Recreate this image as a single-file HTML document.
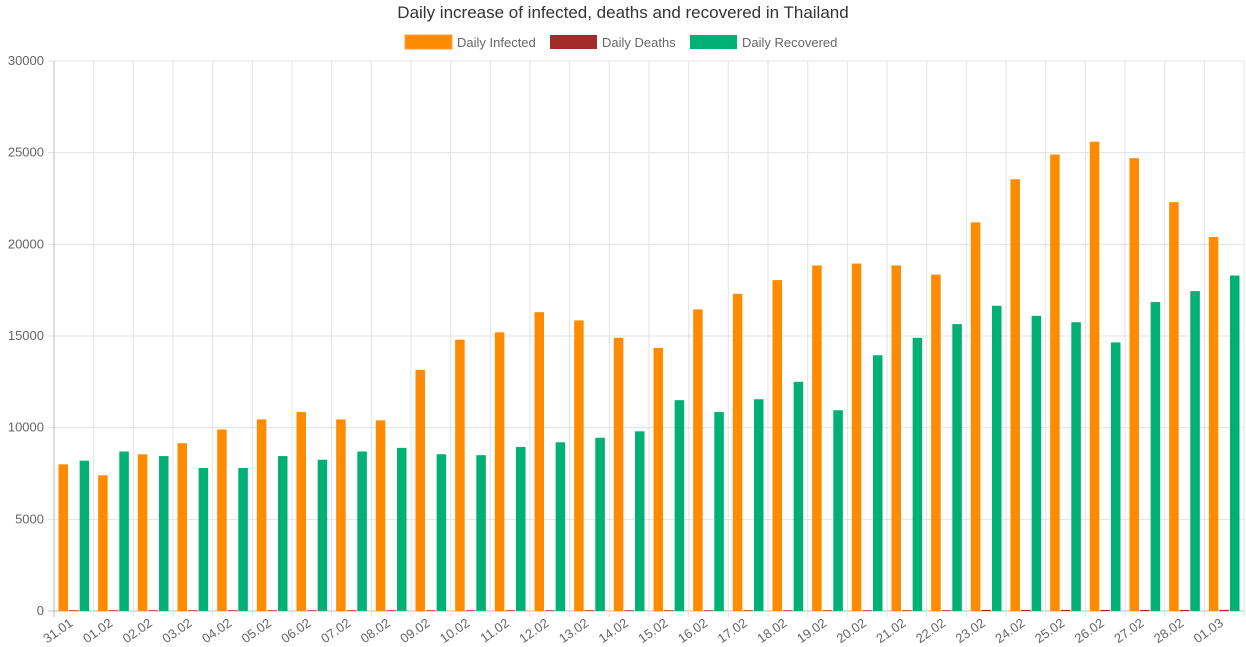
<!DOCTYPE html>
<html><head><meta charset="utf-8"><style>
body{margin:0;background:#fff;font-family:"Liberation Sans",sans-serif;}
svg{display:block}
</style></head><body>
<svg id="chart" width="1246" height="647">
<text x="623" y="18" text-anchor="middle" font-size="17" fill="#333">Daily increase of infected, deaths and recovered in Thailand</text>
<g>
<g><rect x="405" y="35" width="47" height="14" fill="#ff8c00" stroke="#ffa040"/><text x="457" y="47" font-size="13" fill="#666">Daily Infected</text></g>
<g><rect x="550" y="35" width="47" height="14" fill="#a52a2a"/><text x="602" y="47" font-size="13" fill="#666">Daily Deaths</text></g>
<g><rect x="690" y="35" width="47" height="14" fill="#00b074"/><text x="742" y="47" font-size="13" fill="#666">Daily Recovered</text></g>
</g>
<g id="grid"></g><g id="bars"></g><g id="axes"></g>
</svg>
<script>
const categories=["31.01","01.02","02.02","03.02","04.02","05.02","06.02","07.02","08.02","09.02","10.02","11.02","12.02","13.02","14.02","15.02","16.02","17.02","18.02","19.02","20.02","21.02","22.02","23.02","24.02","25.02","26.02","27.02","28.02","01.03"];
const infected=[8000,7400,8550,9150,9900,10450,10850,10450,10400,13150,14800,15200,16300,15850,14900,14350,16450,17300,18050,18850,18950,18850,18350,21200,23550,24900,25600,24700,22300,20400];
const deaths=[40,40,40,40,40,40,40,40,40,40,40,40,40,40,40,40,40,40,40,40,40,40,40,60,60,60,60,60,60,60];
const recovered=[8200,8700,8450,7800,7800,8450,8250,8700,8900,8550,8500,8950,9200,9450,9800,11500,10850,11550,12500,10950,13950,14900,15650,16650,16100,15750,14650,16850,17450,18300];
const yTicks=[0,5000,10000,15000,20000,25000,30000];
const NS="http://www.w3.org/2000/svg";
const L=54,R=1244,T=61,B=611,yMax=30000;
const cw=(R-L)/categories.length;
const y=v=>B-(v/yMax)*(B-T);
const x=i=>L+i*cw;
function mk(tag,attrs,parent){const e=document.createElementNS(NS,tag);for(const k in attrs)e.setAttribute(k,attrs[k]);parent.appendChild(e);return e;}
const grid=document.getElementById('grid'),bars=document.getElementById('bars'),axes=document.getElementById('axes');
yTicks.forEach(t=>{
  const ln=mk('line',{x1:L-6,x2:R,y1:y(t),y2:y(t),stroke:t===0?'#bbb':'#e3e3e3'},grid);
  
  
  const tx=mk('text',{x:L-10,y:y(t)+4,'text-anchor':'end','font-size':13,fill:'#666'},axes);
  tx.textContent=t;
  
  
});
for(let i=0;i<=categories.length;i++){
  const ln=mk('line',{x1:x(i),x2:x(i),y1:T,y2:B+6,stroke:i===0?'#bbb':'#e3e3e3'},grid);
  
  
}
const series=[[infected,'#ff8c00','bar-infected'],[deaths,'#a52a2a','bar-deaths'],[recovered,'#00b074','bar-recovered']];
const inner=cw*0.8,slot=inner/3,bw=slot*0.9;
categories.forEach((c,i)=>{
  series.forEach(([arr,col,nm],s)=>{
    const bx=x(i)+cw*0.1+s*slot+(slot-bw)/2;
    const r=mk('rect',{x:bx,y:y(arr[i]),width:bw,height:B-y(arr[i]),fill:col},bars);
    
    
  });
  const cx=x(i)+cw/2;
  const tx=mk('text',{x:cx,y:B+14,'text-anchor':'end','font-size':13,fill:'#666',transform:`rotate(-35 ${cx} ${B+14})`},axes);
  tx.textContent=c;
  
  
});
</script>
</body></html>
